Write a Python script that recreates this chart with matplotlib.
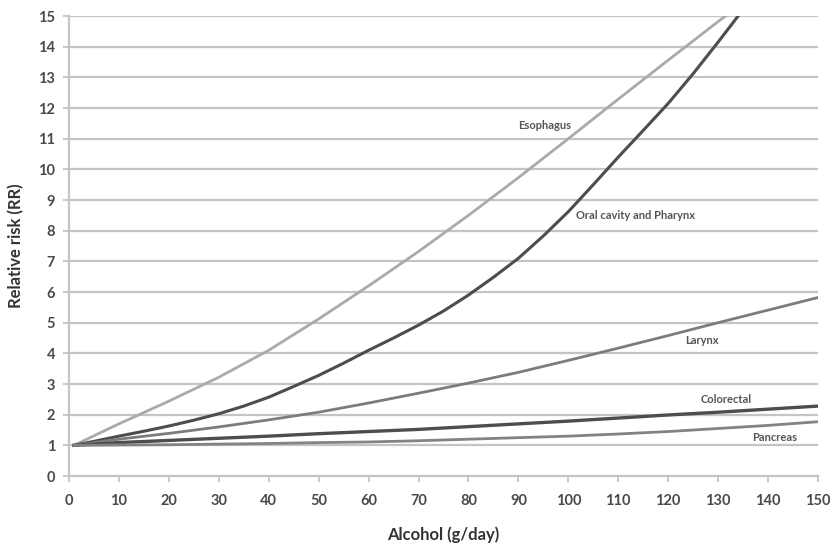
import matplotlib
matplotlib.use("Agg")
import matplotlib.pyplot as plt

plt.rcParams['font.family'] = ['Lato', 'DejaVu Sans']

# values (alcohol g/day -> relative risk)
alcohol = [1, 10, 20, 30, 40, 50, 60, 70, 80, 90, 100, 110, 120, 130, 140, 150]

esophagus_x = [1, 10, 20, 30, 40, 50, 60, 70, 80, 90, 100, 110, 120, 130, 131.5]
esophagus = [1.0, 1.7, 2.44, 3.22, 4.1, 5.12, 6.2, 7.32, 8.5, 9.73, 11.0, 12.29, 13.56, 14.82, 15.0]

oral_x = [1, 5, 10, 15, 20, 25, 30, 35, 40, 45, 50, 55, 60, 65, 70, 75, 80, 85,
          90, 95, 100, 105, 110, 115, 120, 125, 130, 134]
oral = [1.0, 1.13, 1.3, 1.46, 1.63, 1.82, 2.03, 2.28, 2.57, 2.92, 3.28, 3.68, 4.1,
        4.5, 4.92, 5.38, 5.9, 6.48, 7.1, 7.83, 8.62, 9.5, 10.4, 11.27, 12.15,
        13.12, 14.15, 15.0]

larynx = [1.0, 1.2, 1.39, 1.6, 1.83, 2.08, 2.38, 2.7, 3.03, 3.38, 3.77, 4.17, 4.58, 5.0, 5.41, 5.82]
colorectal = [1.0, 1.09, 1.16, 1.23, 1.3, 1.38, 1.45, 1.52, 1.61, 1.7, 1.79, 1.89, 1.99, 2.08, 2.18, 2.28]
pancreas = [1.0, 1.01, 1.02, 1.04, 1.06, 1.09, 1.11, 1.15, 1.2, 1.25, 1.3, 1.37, 1.45, 1.55, 1.65, 1.77]

labels = ["Esophagus", "Oral cavity and Pharynx", "Larynx", "Colorectal", "Pancreas"]
label_pos = [(95.2, 11.42), (113.4, 8.5), (126.8, 4.43), (131.7, 2.48), (141.3, 1.27)]

fig = plt.figure(figsize=(8.33, 5.45), dpi=100)
ax = fig.add_axes([0.0828, 0.1266, 0.8992, 0.844])

grid_c = '#c4c4c4'
for v in range(1, 16):
    ax.axhline(v, color=grid_c, lw=1.6, zorder=0)

ax.plot(esophagus_x, esophagus, color='#aaaaaa', lw=2.0, zorder=3)
ax.plot(oral_x, oral, color='#4d4d4d', lw=2.2, zorder=3)
ax.plot(alcohol, larynx, color='#7c7c7c', lw=2.0, zorder=3)
ax.plot(alcohol, colorectal, color='#4d4d4d', lw=2.4, zorder=3)
ax.plot(alcohol, pancreas, color='#838383', lw=2.0, zorder=3)

for txt, (lx, ly) in zip(labels, label_pos):
    ax.text(lx, ly, txt, fontsize=8, fontweight='bold', color='#555555',
            ha='center', va='center')

ax.set_xlim(0, 150)
ax.set_ylim(0, 15)
ax.set_xticks(range(0, 151, 10))
ax.set_yticks(range(0, 16))

for side in ['top', 'right']:
    ax.spines[side].set_visible(False)
for side in ['left', 'bottom']:
    ax.spines[side].set_color(grid_c)
    ax.spines[side].set_linewidth(1.6)

ax.tick_params(axis='both', colors=grid_c, length=4, width=1.3, direction='out',
               labelcolor='#4a4a4a', labelsize=10.5)
for lab in ax.get_xticklabels() + ax.get_yticklabels():
    lab.set_fontweight('bold')
ax.tick_params(axis='x', pad=9)
ax.tick_params(axis='y', pad=6)

ax.set_xlabel("Alcohol (g/day)", fontsize=12, fontweight='bold', color='#333333', labelpad=13)
ax.set_ylabel("Relative risk (RR)", fontsize=12, fontweight='bold', color='#333333', labelpad=10)

fig.savefig("out.png", dpi=100)
